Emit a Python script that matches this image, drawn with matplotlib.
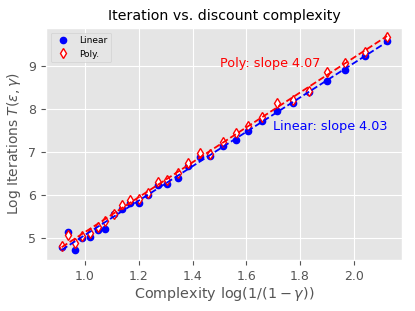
import numpy as np
import matplotlib
matplotlib.use("Agg")
import matplotlib.pyplot as plt

plt.style.use("ggplot")

# complexity log(1/(1-gamma)) and log iterations
x = [0.913, 0.938, 0.963, 0.990, 1.019, 1.047, 1.076, 1.106, 1.137, 1.168,
     1.200, 1.233, 1.270, 1.306, 1.345, 1.385, 1.428, 1.466, 1.513, 1.561,
     1.608, 1.660, 1.714, 1.774, 1.832, 1.900, 1.968, 2.043, 2.124]
lin_iters = [4.80, 5.13, 4.72, 4.99, 5.02, 5.19, 5.22, 5.55, 5.67, 5.81,
             5.81, 6.00, 6.23, 6.25, 6.39, 6.67, 6.88, 6.91, 7.14, 7.28,
             7.49, 7.73, 7.96, 8.13, 8.39, 8.66, 8.91, 9.22, 9.57]
poly_iters = [4.82, 5.07, 4.88, 5.05, 5.11, 5.25, 5.40, 5.57, 5.77, 5.88,
              5.90, 6.05, 6.31, 6.35, 6.52, 6.74, 6.97, 6.95, 7.24, 7.45,
              7.60, 7.82, 8.13, 8.21, 8.42, 8.85, 9.06, 9.33, 9.68]

x = np.array(x)
lin_fit = np.polyfit(x, lin_iters, 1)
poly_fit = np.polyfit(x, poly_iters, 1)

fig, ax = plt.subplots(figsize=(4.15, 3.11), dpi=100)
fig.subplots_adjust(left=0.111, right=0.969, top=0.91, bottom=0.164)

ax.plot(x, lin_iters, 'o', color='blue', markersize=4.5, label='Linear')
ax.plot(x, poly_iters, 'd', color='red', markerfacecolor='white',
        markeredgewidth=1.0, markersize=5.5, label='Poly.')
ax.plot(x, np.polyval(lin_fit, x), '--', color='blue', linewidth=1.3)
ax.plot(x, np.polyval(poly_fit, x), '--', color='red', linewidth=1.3)

ax.text(1.69, 9.05, 'Poly: slope 4.07', color='red', fontsize=9.2,
        ha='center', va='center')
ax.text(1.70, 7.58, 'Linear: slope 4.03', color='blue', fontsize=9.2,
        ha='left', va='center')

ax.set_xlim(0.855, 2.18)
ax.set_ylim(4.49, 9.88)
ax.set_xticks([1.0, 1.2, 1.4, 1.6, 1.8, 2.0])
ax.set_yticks([5, 6, 7, 8, 9])
ax.tick_params(labelsize=9)

ax.set_title('Iteration vs. discount complexity', fontsize=10.2)
ax.set_xlabel(r'Complexity $\log(1/(1-\gamma))$', fontsize=10.4, labelpad=2)
ax.set_ylabel(r'Log Iterations $T(\epsilon, \gamma)$', fontsize=10, labelpad=4)
ax.legend(loc='upper left', fontsize=6.5)

fig.savefig('out.png', dpi=100)
